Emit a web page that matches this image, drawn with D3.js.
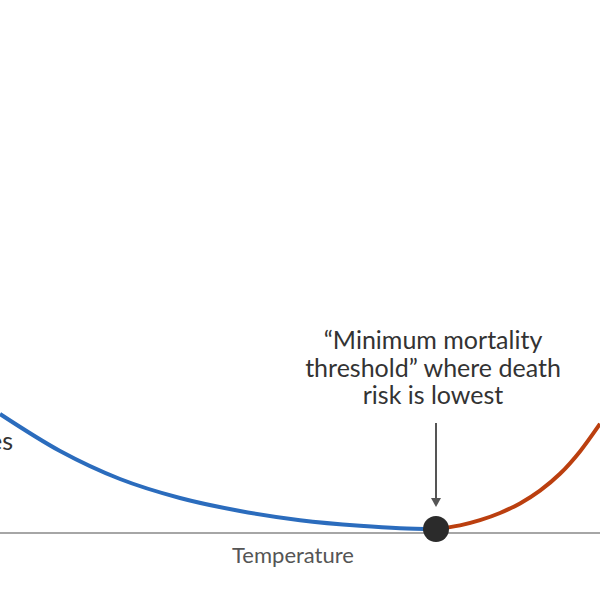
<!DOCTYPE html>
<html>
<head>
<meta charset="utf-8">
<script src="https://cdn.jsdelivr.net/npm/d3@7"></script>
<style>
    body { margin: 0; background: #fff; }
    svg { display: block; font-family: Lato, "Open Sans", sans-serif; }
</style>
</head>
<body>
<svg id="chart" width="600" height="600"></svg>
<script>
// Temperature (arbitrary index) and relative death risk
const coldTemps = [0, 6, 12, 18, 24, 30, 36, 40, 43.6];
const coldRisk = [28.75, 19.5, 12.5, 7.75, 4.5, 2.2, 0.8, 0.2, 0];
const heatTemps = [43.6, 46, 48, 50, 52, 54, 56, 58, 60];
const heatRisk = [0, 0.9, 2.2, 4.0, 6.4, 9.6, 13.8, 19.4, 26.3];

const minTemp = 43.6;
const annotationLines = ["\u201cMinimum mortality", "threshold\u201d where death", "risk is lowest"];
const axisLabel = "Temperature";
const coldLabel = "temperatures";

const width = 600, height = 600;
const svg = d3.select("#chart");

const x = d3.scaleLinear().domain([0, 60]).range([0, width]);
const y = d3.scaleLinear().domain([0, 50]).range([529, 329]);

// baseline
svg.append("line")
    .attr("x1", 0).attr("x2", width)
    .attr("y1", 533).attr("y2", 533)
    .attr("stroke", "#a6a6a6")
    .attr("stroke-width", 2);

const line = d3.line()
    .x(d => x(d[0]))
    .y(d => y(d[1]))
    .curve(d3.curveMonotoneX);

svg.append("path")
    .datum(d3.zip(coldTemps, coldRisk))
    .attr("d", line)
    .attr("fill", "none")
    .attr("stroke", "#2b6cbd")
    .attr("stroke-width", 4);

svg.append("path")
    .datum(d3.zip(heatTemps, heatRisk))
    .attr("d", line)
    .attr("fill", "none")
    .attr("stroke", "#bb3f0f")
    .attr("stroke-width", 4);

// arrow to minimum
const ax = x(minTemp);
svg.append("line")
    .attr("x1", ax).attr("x2", ax)
    .attr("y1", 423).attr("y2", 500)
    .attr("stroke", "#555")
    .attr("stroke-width", 2);
svg.append("path")
    .attr("d", `M${ax - 5},498 L${ax + 5},498 L${ax},507 Z`)
    .attr("fill", "#555");

svg.append("circle")
    .attr("cx", ax).attr("cy", y(0))
    .attr("r", 13)
    .attr("fill", "#2b2b2b");

// annotation
const ann = svg.append("text")
    .attr("text-anchor", "middle")
    .attr("fill", "#333")
    .attr("font-size", 25);
annotationLines.forEach((t, i) => {
    ann.append("tspan")
        .attr("x", 433)
        .attr("y", 349 + i * 27.5)
        .text(t);
});

svg.append("text")
    .attr("x", 293).attr("y", 563)
    .attr("text-anchor", "middle")
    .attr("fill", "#555")
    .attr("font-size", 22)
    .text(axisLabel);

// only the tail of this label is visible in the reference
svg.append("text")
    .attr("x", 13).attr("y", 450)
    .attr("text-anchor", "end")
    .attr("fill", "#333")
    .attr("font-size", 25)
    .text(coldLabel);
</script>
</body>
</html>
